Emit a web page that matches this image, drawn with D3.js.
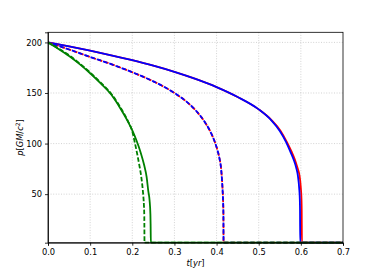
<!DOCTYPE html>
<html lang="en">
	<head>
		<meta charset="utf-8">
		<title>p(t) decay</title>
        <script type="text/javascript" src="https://cdn.jsdelivr.net/npm/d3@7"></script>
		<style type="text/css">
            body { margin: 0; background: #fff; }

            .grid line {
                stroke: #c8c8c8;
                stroke-width: 0.8;
                stroke-dasharray: 1, 1.6;
            }

            .axis text {
                font-family: "DejaVu Sans", sans-serif;
                font-size: 8.3px;
                fill: #000;
            }

            .axis path, .axis line {
                stroke: #000;
                stroke-width: 0.8;
            }

            .curve {
                fill: none;
                stroke-width: 1.8;
            }

            .dashed {
                stroke-dasharray: 4.6, 2;
            }

            .label {
                font-family: "DejaVu Sans", sans-serif;
                font-size: 8.3px;
            }
        </style>
	</head>
	<body>
		<script type="text/javascript">

            var w = 382;
            var h = 273;
            var padLeft = 48, padRight = 343, padTop = 32.3, padBottom = 242.7;

            var xTicks = [0.0, 0.1, 0.2, 0.3, 0.4, 0.5, 0.6, 0.7];
            var yTicks = [50, 100, 150, 200];

            // solid curves (red hides under blue except near the end)
            var tBlueSolid = [0, 0.05, 0.1, 0.15, 0.2, 0.25, 0.3, 0.35, 0.4, 0.45, 0.5, 0.53, 0.55, 0.565, 0.575, 0.583, 0.589, 0.593, 0.596, 0.5975, 0.598, 0.5985, 0.7];
            var pBlueSolid = [200, 196, 191.8, 187.3, 182.4, 177, 170.9, 163.9, 155.8, 146, 133.8, 123, 112.5, 101.5, 92, 84, 76, 68, 56, 45, 34, 2, 2];

            var tRedSolid = [0, 0.05, 0.1, 0.15, 0.2, 0.25, 0.3, 0.35, 0.4, 0.45, 0.5, 0.531, 0.552, 0.567, 0.578, 0.586, 0.592, 0.597, 0.6, 0.6015, 0.602, 0.6025, 0.7];
            var pRedSolid = [200, 196, 191.8, 187.3, 182.4, 177, 170.9, 163.9, 155.8, 146, 133.8, 123, 112.5, 101.5, 92, 84, 76, 68, 56, 45, 34, 2, 2];

            // dashed curves (red and blue lie on top of each other)
            var tDash = [0, 0.05, 0.1, 0.15, 0.2, 0.25, 0.3, 0.33, 0.35, 0.37, 0.385, 0.395, 0.402, 0.407, 0.411, 0.413, 0.4145, 0.4155, 0.4162, 0.4166, 0.7];
            var pBlueDash = [200, 193, 185.6, 178.5, 170.5, 161.5, 150, 141, 133, 122.5, 112, 102.5, 93.5, 85, 74, 63, 52, 42, 30, 2, 2];
            var pRedDash = [200, 193, 185.6, 178.5, 170.5, 161.5, 150, 141, 133, 122.5, 112, 102.6, 93.7, 85.3, 74.5, 63.8, 53, 43.5, 32, 2, 2];

            // green curves
            var tGreenSolid = [0, 0.025, 0.05, 0.075, 0.1, 0.125, 0.15, 0.16, 0.17, 0.18, 0.19, 0.2, 0.21, 0.22, 0.228, 0.234, 0.238, 0.241, 0.243, 0.2435, 0.244, 0.7];
            var pGreenSolid = [200, 193.5, 186.5, 178.5, 169.5, 159.5, 148.5, 142.5, 136, 129, 121.5, 113, 103, 91, 79, 67, 53, 44, 30, 20, 2, 2];

            var tGreenDash = [0, 0.025, 0.05, 0.075, 0.1, 0.125, 0.15, 0.16, 0.17, 0.18, 0.19, 0.2, 0.206, 0.212, 0.217, 0.221, 0.224, 0.226, 0.2275, 0.2285, 0.229, 0.7];
            var pGreenDash = [200, 194, 187.3, 179.3, 170.3, 160.3, 149.3, 143.5, 137, 130, 122, 112, 101, 89, 78, 68, 58, 49, 40, 28, 2, 2];

            var series = [
                { t: tRedSolid, p: pRedSolid, color: 'red', dashed: false },
                { t: tBlueSolid, p: pBlueSolid, color: 'blue', dashed: false },
                { t: tDash, p: pRedDash, color: 'red', dashed: true, offset: 0 },
                { t: tDash, p: pBlueDash, color: 'blue', dashed: true, offset: 1.2 },
                { t: tGreenSolid, p: pGreenSolid, color: 'green', dashed: false },
                { t: tGreenDash, p: pGreenDash, color: 'green', dashed: true, offset: 0 }
            ];

            var xScale = d3.scaleLinear()
                        .domain([0, 0.7])
                        .range([padLeft, padRight]);

            var yScale = d3.scaleLinear()
                        .domain([2, 210])
                        .range([padBottom, padTop]);

            var svg = d3.select('body')
                        .append('svg')
                        .attr('width', w)
                        .attr('height', h);

            // grid
            var grid = svg.append('g').attr('class', 'grid');
            grid.selectAll('.gx')
                .data(xTicks.slice(1, -1))
                .enter()
                .append('line')
                .attr('x1', function(d) { return xScale(d); })
                .attr('x2', function(d) { return xScale(d); })
                .attr('y1', padTop)
                .attr('y2', padBottom);
            grid.selectAll('.gy')
                .data(yTicks)
                .enter()
                .append('line')
                .attr('x1', padLeft)
                .attr('x2', padRight)
                .attr('y1', function(d) { return yScale(d); })
                .attr('y2', function(d) { return yScale(d); });

            // clip to plot area
            svg.append('clipPath')
                .attr('id', 'clip')
                .append('rect')
                .attr('x', padLeft)
                .attr('y', padTop)
                .attr('width', padRight - padLeft)
                .attr('height', padBottom - padTop + 1);

            var line = d3.line()
                        .curve(d3.curveMonotoneX)
                        .x(function(d) { return xScale(d[0]); })
                        .y(function(d) { return yScale(d[1]); });

            svg.append('g')
                .attr('clip-path', 'url(#clip)')
                .selectAll('path')
                .data(series)
                .enter()
                .append('path')
                .attr('class', function(d) { return d.dashed ? 'curve dashed' : 'curve'; })
                .attr('stroke', function(d) { return d.color; })
                .attr('stroke-dashoffset', function(d) { return d.offset || 0; })
                .attr('d', function(d) { return line(d.t.map(function(t, i) { return [t, d.p[i]]; })); });

            var xAxis = d3.axisBottom()
                        .scale(xScale)
                        .tickValues(xTicks)
                        .tickFormat(d3.format('.1f'))
                        .tickSizeOuter(0)
                        .tickSize(3)
                        .tickPadding(3);

            var yAxis = d3.axisLeft()
                        .scale(yScale)
                        .tickValues(yTicks)
                        .tickSizeOuter(0)
                        .tickSize(3)
                        .tickPadding(3);

            svg.append('g')
                .attr('class', 'axis')
                .attr('transform', 'translate(0,' + padBottom + ')')
                .call(xAxis);

            svg.append('g')
                .attr('class', 'axis')
                .attr('transform', 'translate(' + padLeft + ',0)')
                .call(yAxis);

            // frame
            svg.append('rect')
                .attr('x', padLeft)
                .attr('y', padTop)
                .attr('width', padRight - padLeft)
                .attr('height', padBottom - padTop)
                .attr('fill', 'none')
                .attr('stroke', '#000')
                .attr('stroke-width', 0.8);

            // axis labels
            var xl = svg.append('text')
                .attr('class', 'label')
                .attr('x', (padLeft + padRight) / 2)
                .attr('y', 266)
                .attr('text-anchor', 'middle');
            xl.append('tspan').attr('font-style', 'italic').text('t');
            xl.append('tspan').text('[');
            xl.append('tspan').attr('font-style', 'italic').text('yr');
            xl.append('tspan').text(']');

            var yl = svg.append('text')
                .attr('class', 'label')
                .attr('text-anchor', 'middle')
                .attr('transform', 'translate(23,' + ((padTop + padBottom) / 2) + ') rotate(-90)');
            yl.append('tspan').attr('font-style', 'italic').text('p');
            yl.append('tspan').text('[');
            yl.append('tspan').attr('font-style', 'italic').text('GM');
            yl.append('tspan').text('/');
            yl.append('tspan').attr('font-style', 'italic').text('c');
            yl.append('tspan').attr('font-size', '6px').attr('dy', -3.5).text('2');
            yl.append('tspan').attr('dy', 3.5).text(']');

		</script>
	</body>
</html>
